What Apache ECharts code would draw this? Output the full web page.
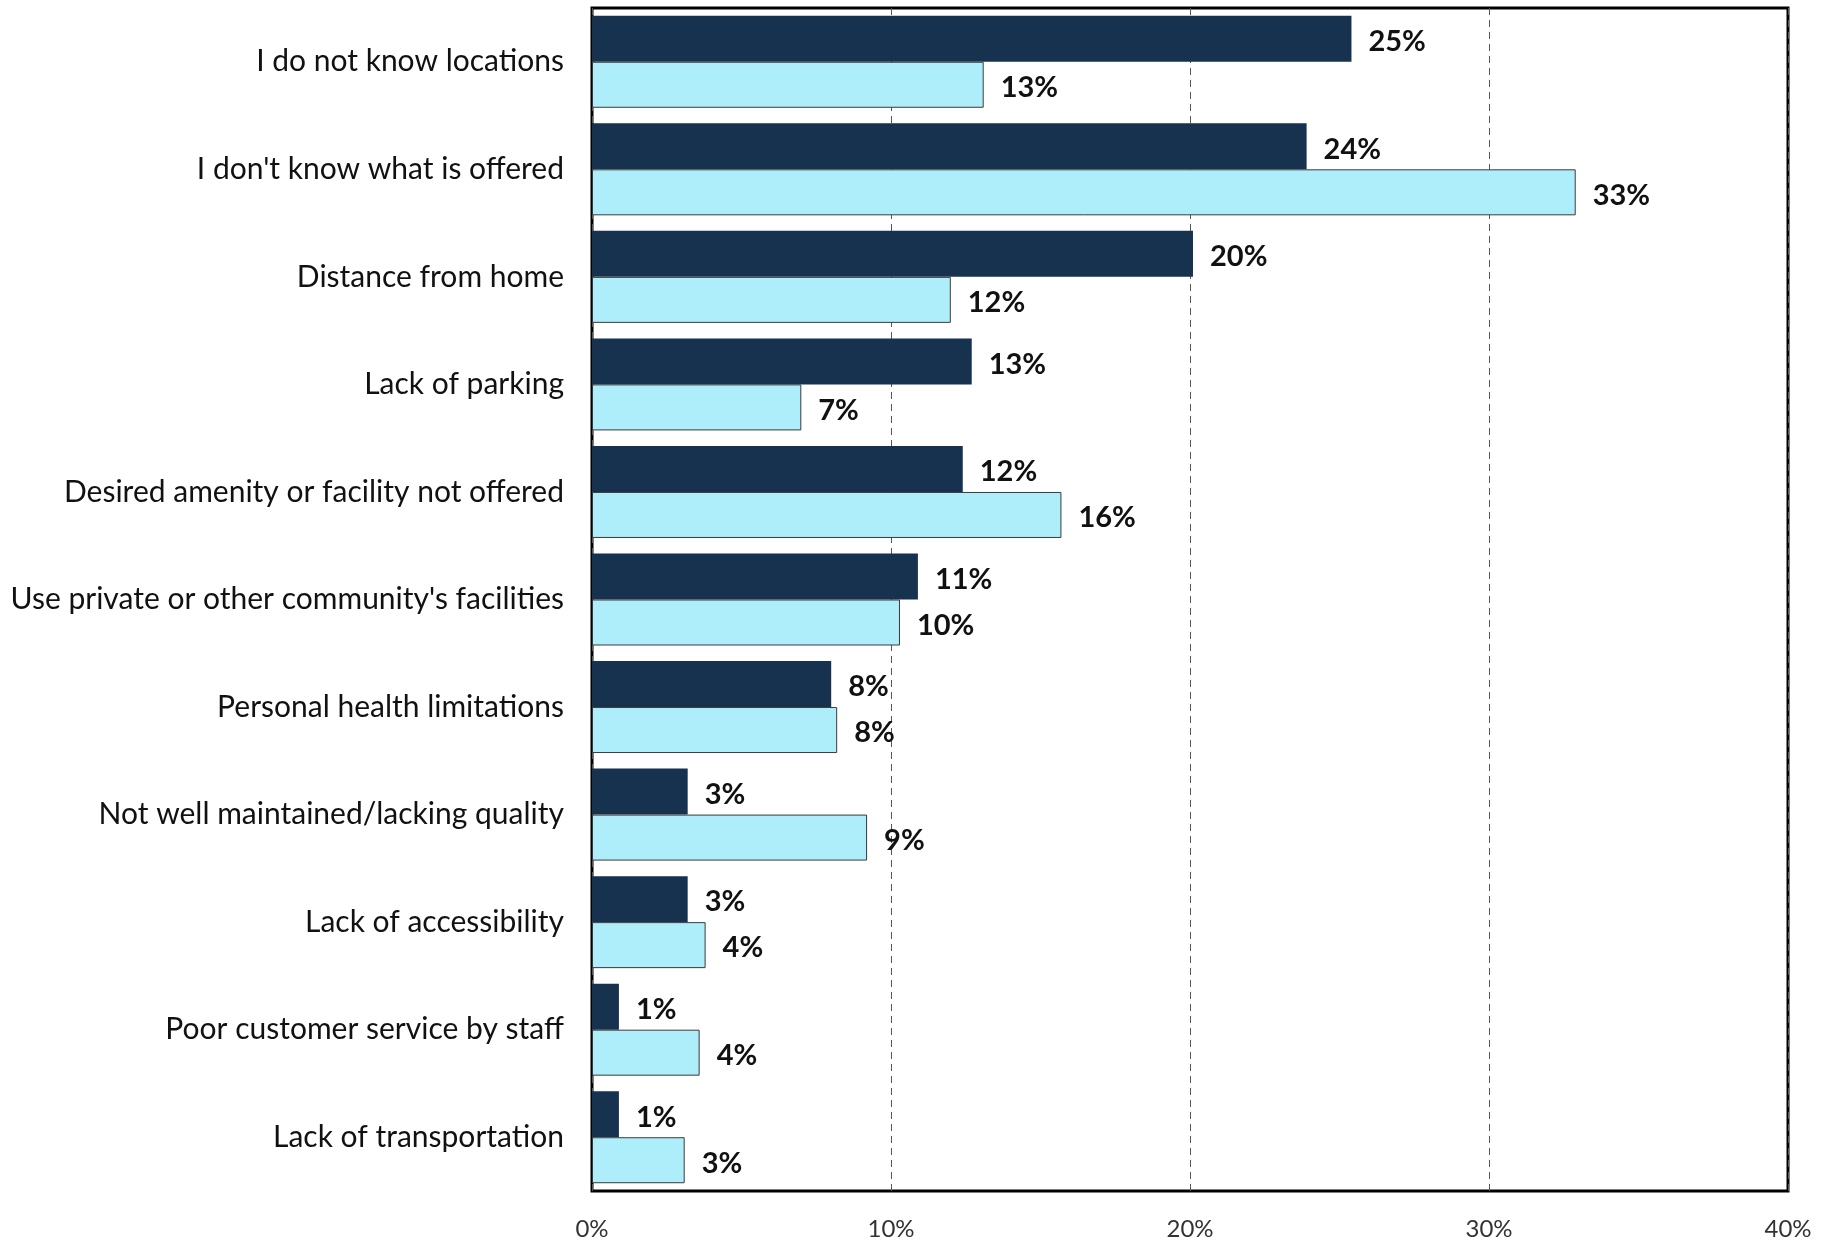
<!DOCTYPE html>
<html><head><meta charset="utf-8">
<script src="https://cdn.jsdelivr.net/npm/echarts@6/dist/echarts.min.js"></script>
<style>html,body{margin:0;padding:0;background:#fff}#c{width:1830px;height:1241px}</style>
</head><body><div id="c"></div>
<script>
const categories = [
  "I do not know locations",
  "I don't know what is offered",
  "Distance from home",
  "Lack of parking",
  "Desired amenity or facility not offered",
  "Use private or other community's facilities",
  "Personal health limitations",
  "Not well maintained/lacking quality",
  "Lack of accessibility",
  "Poor customer service by staff",
  "Lack of transportation"
];
const seriesDark = [25.4, 23.9, 20.1, 12.7, 12.4, 10.9, 8.0, 3.2, 3.2, 0.9, 0.9];
const seriesLight = [13.1, 32.9, 12.0, 7.0, 15.7, 10.3, 8.2, 9.2, 3.8, 3.6, 3.1];
const xTicks = [0, 10, 20, 30, 40];

const FONT = "Lato";
const chart = echarts.init(document.getElementById('c'));
const lbl = {
  show: true, position: 'right', distance: 17, offset: [0, 3],
  formatter: p => Math.round(p.value) + '%',
  fontFamily: FONT, fontWeight: 'bold', fontSize: 29, color: '#111'
};
chart.setOption({
  animation: false,
  grid: { left: 592, right: 42, top: 8, bottom: 48, show: true, borderColor: '#000', borderWidth: 3, containLabel: false },
  xAxis: {
    type: 'value', min: xTicks[0], max: xTicks[xTicks.length - 1], interval: 10,
    axisLine: { show: false }, axisTick: { show: false },
    splitLine: { show: true, lineStyle: { type: [7, 5], color: '#555', width: 1 } },
    axisLabel: { formatter: v => v + '%', fontFamily: FONT, fontSize: 24, color: '#333', margin: 26 }
  },
  yAxis: {
    type: 'category', data: categories, inverse: true,
    axisLine: { show: false }, axisTick: { show: false },
    axisLabel: { fontFamily: FONT, fontSize: 30, color: '#111', margin: 28, padding: [7, 0, 0, 0] }
  },
  series: [
    { type: 'bar', data: seriesDark, barWidth: 46, barGap: '0%',
      itemStyle: { color: '#16324e' }, label: lbl },
    { type: 'bar', data: seriesLight, barWidth: 46,
      itemStyle: { color: '#aeeefb', borderColor: '#3a3a3a', borderWidth: 1 }, label: lbl }
  ]
});
</script></body></html>
